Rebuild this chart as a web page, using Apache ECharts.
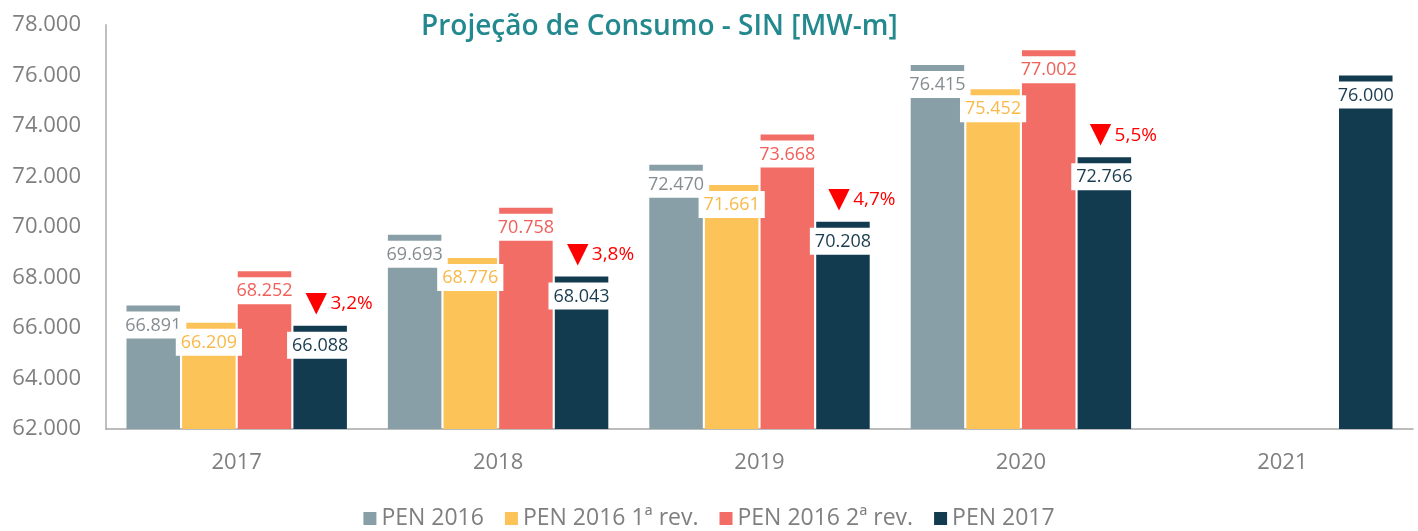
<!DOCTYPE html>
<html>
<head>
<meta charset="utf-8">
<script src="https://cdn.jsdelivr.net/npm/echarts@6/dist/echarts.min.js"></script>
<style>
  html, body { margin: 0; padding: 0; background: #fff; }
  #main { width: 1418px; height: 531px; }
</style>
</head>
<body>
<div id="main"></div>
<script>
// dados
var anos = ['2017', '2018', '2019', '2020', '2021'];
var pen2016 = [66891, 69693, 72470, 76415, '-'];
var pen2016rev1 = [66209, 68776, 71661, 75452, '-'];
var pen2016rev2 = [68252, 70758, 73668, 77002, '-'];
var pen2017 = [66088, 68043, 70208, 72766, 76000];
var quedas = ['3,2%', '3,8%', '4,7%', '5,5%', ''];
var nomes = ['PEN 2016', 'PEN 2016 1ª rev.', 'PEN 2016 2ª rev.', 'PEN 2017'];
var cores = ['#889fa8', '#fcc359', '#f26d65', '#123b50'];
var coresTexto = ['#858d91', '#f8b94a', '#f0605a', '#1b3c50'];

var fonte = '"Open Sans", "Noto Sans", sans-serif';

function fmt(v) {
  return (v / 1000).toFixed(3);
}

function serieBarra(i, dados) {
  return {
    name: nomes[i],
    type: 'bar',
    stack: i === 3 ? 'p17' : null,
    barWidth: 53.5,
    barGap: '4%',
    data: dados,
    itemStyle: { color: cores[i] },
    label: {
      show: true,
      position: 'insideTop',
      distance: 6,
      backgroundColor: '#fff',
      padding: [5, 5, 4, 5],
      color: coresTexto[i],
      fontFamily: fonte,
      fontSize: 18,
      formatter: function (p) { return fmt(p.value); }
    }
  };
}

var chartDom = document.getElementById('main');
var myChart = echarts.init(chartDom);

var option = {
  animation: false,
  title: {
    text: 'Projeção de Consumo - SIN [MW-m]',
    left: 416,
    top: 8,
    textStyle: {
      color: '#23898e',
      fontFamily: fonte,
      fontWeight: 600,
      fontSize: 28
    }
  },
  legend: {
    data: nomes,
    top: 502,
    left: 'center',
    icon: 'rect',
    itemWidth: 13,
    itemHeight: 13,
    itemGap: 21,
    textStyle: { color: '#7f7f7f', fontFamily: fonte, fontSize: 23 }
  },
  grid: {
    left: 106,
    right: 5,
    top: 25,
    bottom: 102
  },
  xAxis: {
    type: 'category',
    data: anos,
    axisLine: { lineStyle: { color: '#a6a6a6', width: 1.5 } },
    axisTick: { show: false },
    axisLabel: { color: '#7f7f7f', fontFamily: fonte, fontSize: 22, margin: 23 }
  },
  yAxis: {
    type: 'value',
    min: 62000,
    max: 78000,
    interval: 2000,
    axisLine: { show: true, lineStyle: { color: '#bfbfbf', width: 2 } },
    axisTick: { show: false },
    splitLine: { show: false },
    axisLabel: {
      color: '#7f7f7f',
      fontFamily: fonte,
      fontSize: 22,
      margin: 25,
      formatter: function (v) { return fmt(v); }
    }
  },
  series: [
    serieBarra(0, pen2016),
    serieBarra(1, pen2016rev1),
    serieBarra(2, pen2016rev2),
    serieBarra(3, pen2017),
    {
      // só para a anotação da queda acima da barra PEN 2017
      name: 'queda',
      type: 'bar',
      stack: 'p17',
      data: [0, 0, 0, 0, '-'],
      itemStyle: { color: 'transparent' },
      label: {
        show: true,
        position: 'top',
        distance: 8,
        offset: [19, 0],
        formatter: function (p) {
          return quedas[p.dataIndex] ? '{t|▼} {p|' + quedas[p.dataIndex] + '}' : '';
        },
        rich: {
          t: { color: '#ff0000', fontFamily: 'DejaVu Sans', fontSize: 28 },
          p: { color: '#ff0000', fontFamily: fonte, fontSize: 19 }
        }
      }
    }
  ]
};

myChart.setOption(option);
</script>
</body>
</html>
